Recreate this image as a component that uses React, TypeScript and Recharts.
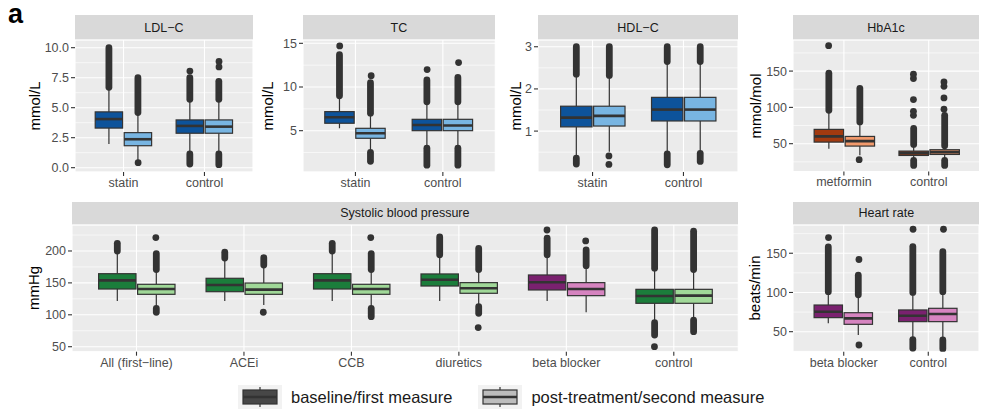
import React from 'react';
import { ComposedChart, Bar, Scatter, XAxis, YAxis, CartesianGrid } from 'recharts';

const FONT = '"Liberation Sans", Arial, Helvetica, sans-serif';

// ---------------- LDL-C ----------------
const ldlCategories = ['statin', 'control'];
const ldlTicks = [0, 2.5, 5, 7.5, 10];
const ldlMinor = [1.25, 3.75, 6.25, 8.75];
const ldlDomain = [-0.36, 10.64];
// [lower whisker, Q1, median, Q3, upper whisker]
const ldlBaseStats = [[1.97, 3.3, 4.05, 4.65, 6.6], [1.2, 2.87, 3.48, 3.98, 5.6]];
const ldlPostStats = [[0.6, 1.83, 2.37, 2.92, 4.55], [1.2, 2.87, 3.42, 3.98, 5.6]];
// dense outlier runs [from, to]
const ldlBaseRuns = [[[6.7, 10.0]], [[5.7, 7.5], [0.3, 1.15]]];
const ldlPostRuns = [[[4.6, 7.5]], [[5.7, 7.2], [0.25, 1.15]]];
const ldlBaseDots = [[], [8.05]];
const ldlPostDots = [[0.42], [8.4, 8.85]];

// ---------------- TC ----------------
const tcCategories = ['statin', 'control'];
const tcTicks = [5, 10, 15];
const tcMinor = [2.5, 7.5, 12.5];
const tcDomain = [0.27, 15.38];
const tcBaseStats = [[5.27, 5.85, 6.53, 7.18, 8.9], [3.05, 5.0, 5.65, 6.3, 8.25]];
const tcPostStats = [[2.6, 4.13, 4.7, 5.27, 6.95], [3.05, 5.0, 5.6, 6.3, 8.25]];
const tcBaseRuns = [[[9.0, 13.7]], [[8.3, 10.8], [1.05, 3.0]]];
const tcPostRuns = [[[7.0, 10.5], [1.5, 2.5]], [[8.3, 11.1], [1.05, 3.0]]];
const tcBaseDots = [[14.7], [12.0]];
const tcPostDots = [[11.3], [12.8]];

// ---------------- HDL-C ----------------
const hdlCategories = ['statin', 'control'];
const hdlTicks = [1, 2, 3];
const hdlMinor = [0.5, 1.5, 2.5];
const hdlDomain = [0.03, 3.16];
const hdlBaseStats = [[0.43, 1.1, 1.32, 1.59, 2.32], [0.5, 1.24, 1.51, 1.8, 2.63]];
const hdlPostStats = [[0.51, 1.12, 1.36, 1.59, 2.3], [0.52, 1.24, 1.51, 1.8, 2.63]];
const hdlBaseRuns = [[[2.35, 3.0], [0.22, 0.36]], [[2.65, 3.0], [0.2, 0.46]]];
const hdlPostRuns = [[[2.32, 3.0]], [[2.65, 3.0], [0.28, 0.47]]];
const hdlBaseDots = [[], []];
const hdlPostDots = [[0.41, 0.21], []];

// ---------------- HbA1c ----------------
const hbaCategories = ['metformin', 'control'];
const hbaTicks = [50, 100, 150];
const hbaMinor = [25, 75, 125, 175];
const hbaDomain = [11.7, 192.8];
const hbaBaseStats = [[43, 52.2, 60.1, 69.7, 95], [29, 33.8, 37, 39.8, 48]];
const hbaPostStats = [[34, 46.7, 53.6, 60, 79], [29, 35.2, 38.4, 41.7, 46]];
const hbaBaseRuns = [[[96, 147]], [[49, 71], [20, 27]]];
const hbaPostRuns = [[[80, 126]], [[47, 89], [20, 27]]];
const hbaBaseDots = [[185], [89, 94.6, 110.8, 139.8, 145.7]];
const hbaPostDots = [[28], [97.4, 113, 129, 135]];

// ---------------- Systolic blood pressure ----------------
const sbpCategories = ['All (first\u2212line)', 'ACEi', 'CCB', 'diuretics', 'beta blocker', 'control'];
const sbpTicks = [50, 100, 150, 200];
const sbpMinor = [75, 125, 175, 225];
const sbpDomain = [42.2, 240.7];
const sbpBaseStats = [
  [121.6, 140.4, 154, 164.4, 199],
  [121.6, 136.2, 146.7, 157.2, 186],
  [121.6, 140.4, 154, 164.4, 199],
  [121.6, 145.1, 155, 164, 193],
  [121.6, 138.9, 150.9, 162.4, 193],
  [87, 118, 129.5, 139.9, 172],
];
const sbpPostStats = [
  [110, 132.1, 140.4, 147.8, 170],
  [115.4, 132.1, 139.4, 149.8, 176],
  [110, 132.1, 140.4, 147.8, 170],
  [114, 133.7, 141.5, 150.4, 170],
  [103.9, 130, 140.4, 150.4, 176],
  [92, 118, 130, 139.9, 170],
];
const sbpBaseRuns = [[[200, 212]], [[189, 198]], [[200, 212]], [[194, 222]], [[194, 220]], [[173, 233], [68.3, 87.6]]];
const sbpPostRuns = [[[171, 196], [104, 110]], [[178, 189.5]], [[171, 196], [97, 110]], [[171, 204], [102.3, 112.7]], [[177, 201.6]], [[171, 231], [73.5, 91.8]]];
const sbpBaseDots = [[], [], [], [], [232.9], [50]];
const sbpPostDots = [[221], [104], [221], [80], [215.7], []];

// ---------------- Heart rate ----------------
const hrCategories = ['beta blocker', 'control'];
const hrTicks = [50, 100, 150];
const hrMinor = [25, 75, 125, 175];
const hrDomain = [24.5, 186];
const hrBaseStats = [[60.7, 67.9, 75.5, 84, 100], [41, 62.8, 70.4, 77.7, 99]];
const hrPostStats = [[45.8, 59.4, 67, 74.2, 96.5], [40.5, 62.8, 72.6, 79.8, 100]];
const hrBaseRuns = [[[101, 158]], [[100, 158.5], [28.8, 40]]];
const hrPostRuns = [[[97, 122]], [[101, 152], [28, 39.4]]];
const hrBaseDots = [[170], [180.6]];
const hrPostDots = [[33, 142], [180.6]];

// ---------------- colours ----------------
const BLUE_D = '#0d539b';
const BLUE_L = '#78b5e2';
const ORNG_D = '#a23a10';
const ORNG_L = '#f29a6c';
const GRN_D = '#1b7d3b';
const GRN_L = '#a0d898';
const PUR_D = '#7a216f';
const PUR_L = '#d684c0';

const ldlBaseColors = [BLUE_D, BLUE_D];
const ldlPostColors = [BLUE_L, BLUE_L];
const hbaBaseColors = [ORNG_D, ORNG_D];
const hbaPostColors = [ORNG_L, ORNG_L];
const sbpBaseColors = [GRN_D, GRN_D, GRN_D, GRN_D, PUR_D, GRN_D];
const sbpPostColors = [GRN_L, GRN_L, GRN_L, GRN_L, PUR_L, GRN_L];
const hrBaseColors = [PUR_D, PUR_D];
const hrPostColors = [PUR_L, PUR_L];

const INK = '#333333';

const makeBoxShape = (key: string, colors: string[]) => (props: any) => {
  const { x, y, width, height, payload, index } = props;
  if (x == null || payload == null) return <g />;
  const s = payload[key + 'S'];
  const runs = payload[key + 'R'];
  const top = Math.min(y, y + height);
  const h = Math.abs(height);
  const ppu = h / (s[3] - s[1]);
  const Y = (v: number) => top + h - (v - s[1]) * ppu;
  const cx = x + width / 2;
  const bx = x + 0.8;
  const bw = width - 1.6;
  return (
    <g>
      {runs.map((r: number[], k: number) => (
        <line key={k} x1={cx} x2={cx} y1={Y(r[0])} y2={Y(r[1])} stroke={INK} strokeWidth={6.8} strokeLinecap="round" />
      ))}
      <line x1={cx} x2={cx} y1={Y(s[0])} y2={Y(s[1])} stroke={INK} strokeWidth={1.2} />
      <line x1={cx} x2={cx} y1={Y(s[3])} y2={Y(s[4])} stroke={INK} strokeWidth={1.2} />
      <rect x={bx} y={top} width={bw} height={h} fill={colors[index]} stroke={INK} strokeWidth={1.2} />
      <line x1={bx} x2={bx + bw} y1={Y(s[2])} y2={Y(s[2])} stroke={INK} strokeWidth={2.6} />
    </g>
  );
};

const dotShape = (p: any) => <circle cx={p.cx} cy={p.cy} r={3.4} fill={INK} />;

const YW = 50;
const XH = 30;
const MT = 6;
const MR = 6;
const DODGE = 0.18;

type PanelProps = {
  left: number; top: number; w: number; h: number;
  stripTop: number; stripH: number; strip: string;
  titleX: number; title: string;
  categories: string[]; ticks: number[]; minor: number[]; domain: number[];
  baseStats: number[][]; postStats: number[][];
  baseRuns: number[][][]; postRuns: number[][][];
  baseDots: number[][]; postDots: number[][];
  baseColors: string[]; postColors: string[];
  fmt?: (v: number) => string;
};

function Panel(p: PanelProps) {
  const n = p.categories.length;
  const rows = p.categories.map((c, i) => ({
    cat: c,
    base: [p.baseStats[i][1], p.baseStats[i][3]],
    post: [p.postStats[i][1], p.postStats[i][3]],
    baseS: p.baseStats[i],
    postS: p.postStats[i],
    baseR: p.baseRuns[i],
    postR: p.postRuns[i],
  }));
  const dots: { x: number; y: number }[] = [];
  p.categories.forEach((c, i) => {
    p.baseDots[i].forEach((v) => dots.push({ x: i + 1 - DODGE, y: v }));
    p.postDots[i].forEach((v) => dots.push({ x: i + 1 + DODGE, y: v }));
  });
  const pad = (0.1 * p.w) / (n + 0.2);
  const tickStyle = { fill: '#4D4D4D', fontSize: 12.5, fontFamily: FONT };
  return (
    <>
      <div
        style={{
          position: 'absolute', left: p.left, top: p.stripTop, width: p.w, height: p.stripH,
          background: '#D9D9D9', color: '#1A1A1A', fontSize: 12.5, fontFamily: FONT,
          display: 'flex', alignItems: 'center', justifyContent: 'center',
        }}
      >
        {p.strip}
      </div>
      <div
        style={{
          position: 'absolute', left: p.titleX, top: p.top + p.h / 2,
          transform: 'translate(-50%, -50%) rotate(-90deg)', whiteSpace: 'nowrap',
          fontSize: 15, fontFamily: FONT, color: '#000',
        }}
      >
        {p.title}
      </div>
      <div style={{ position: 'absolute', left: p.left - YW, top: p.top - MT }}>
        <ComposedChart
          width={YW + p.w + MR}
          height={MT + p.h + XH}
          data={rows}
          margin={{ top: MT, right: MR, left: 0, bottom: 0 }}
          barCategoryGap="14%"
          barGap={0}
        >
          <XAxis
            dataKey="cat"
            type="category"
            height={XH}
            padding={{ left: pad, right: pad }}
            axisLine={false}
            tickLine={{ stroke: INK, strokeWidth: 1.1 }}
            tickSize={4}
            tickMargin={2}
            interval={0}
            tick={tickStyle}
          />
          <XAxis xAxisId="num" dataKey="x" type="number" domain={[0.4, n + 0.6]} allowDataOverflow hide />
          <YAxis
            type="number"
            domain={p.domain}
            allowDataOverflow
            ticks={p.ticks}
            interval={0}
            width={YW}
            axisLine={false}
            tickLine={{ stroke: INK, strokeWidth: 1.1 }}
            tickSize={4}
            tickMargin={2}
            tick={tickStyle}
            tickFormatter={p.fmt ?? ((v: number) => String(v))}
          />
          <YAxis yAxisId="minor" type="number" domain={p.domain} allowDataOverflow ticks={p.minor} interval={0} hide />
          <CartesianGrid yAxisId="minor" vertical={false} fill="#EBEBEB" stroke="#FFFFFF" strokeWidth={0.6} />
          <CartesianGrid stroke="#FFFFFF" strokeWidth={1.1} />
          <Bar dataKey="base" isAnimationActive={false} shape={makeBoxShape('base', p.baseColors)} />
          <Bar dataKey="post" isAnimationActive={false} shape={makeBoxShape('post', p.postColors)} />
          <Scatter data={dots} dataKey="y" xAxisId="num" isAnimationActive={false} shape={dotShape} />
        </ComposedChart>
      </div>
    </>
  );
}

const legendLabels = ['baseline/first measure', 'post-treatment/second measure'];
const legendFills = ['#474747', '#BDBDBD'];

function LegendKey({ fill }: { fill: string }) {
  return (
    <svg width={44} height={24} style={{ display: 'block' }}>
      <rect x={0} y={0} width={44} height={24} fill="#F2F2F2" />
      <line x1={22} x2={22} y1={2} y2={22} stroke={INK} strokeWidth={1.2} />
      <rect x={5} y={5} width={34} height={14} fill={fill} stroke={INK} strokeWidth={1.2} />
      <line x1={5} x2={39} y1={12} y2={12} stroke={INK} strokeWidth={2.4} />
    </svg>
  );
}

export default function App() {
  return (
    <div style={{ position: 'absolute', left: 0, top: 0, width: 1000, height: 411, background: '#fff', overflow: 'hidden', fontFamily: FONT }}>
      <div style={{ position: 'absolute', left: 8, top: 1, fontSize: 27, fontWeight: 'bold', lineHeight: 1, color: '#000' }}>a</div>
      <Panel left={75} top={40} w={178} h={132} stripTop={15} stripH={25} strip={'LDL\u2212C'} titleX={34} title="mmol/L"
        categories={ldlCategories} ticks={ldlTicks} minor={ldlMinor} domain={ldlDomain}
        baseStats={ldlBaseStats} postStats={ldlPostStats} baseRuns={ldlBaseRuns} postRuns={ldlPostRuns}
        baseDots={ldlBaseDots} postDots={ldlPostDots} baseColors={ldlBaseColors} postColors={ldlPostColors}
        fmt={(v: number) => v.toFixed(1)} />
      <Panel left={302.7} top={40} w={192.3} h={132} stripTop={15} stripH={25} strip="TC" titleX={267} title="mmol/L"
        categories={tcCategories} ticks={tcTicks} minor={tcMinor} domain={tcDomain}
        baseStats={tcBaseStats} postStats={tcPostStats} baseRuns={tcBaseRuns} postRuns={tcPostRuns}
        baseDots={tcBaseDots} postDots={tcPostDots} baseColors={ldlBaseColors} postColors={ldlPostColors} />
      <Panel left={538} top={40} w={200} h={132} stripTop={15} stripH={25} strip={'HDL\u2212C'} titleX={515} title="mmol/L"
        categories={hdlCategories} ticks={hdlTicks} minor={hdlMinor} domain={hdlDomain}
        baseStats={hdlBaseStats} postStats={hdlPostStats} baseRuns={hdlBaseRuns} postRuns={hdlPostRuns}
        baseDots={hdlBaseDots} postDots={hdlPostDots} baseColors={ldlBaseColors} postColors={ldlPostColors} />
      <Panel left={792.7} top={40} w={186.6} h={131.5} stripTop={15} stripH={25} strip="HbA1c" titleX={755} title="mmol/mol"
        categories={hbaCategories} ticks={hbaTicks} minor={hbaMinor} domain={hbaDomain}
        baseStats={hbaBaseStats} postStats={hbaPostStats} baseRuns={hbaBaseRuns} postRuns={hbaPostRuns}
        baseDots={hbaBaseDots} postDots={hbaPostDots} baseColors={hbaBaseColors} postColors={hbaPostColors} />
      <Panel left={71.7} top={225} w={666.3} h={126.7} stripTop={201.5} stripH={23.5} strip="Systolic blood pressure" titleX={33} title="mmHg"
        categories={sbpCategories} ticks={sbpTicks} minor={sbpMinor} domain={sbpDomain}
        baseStats={sbpBaseStats} postStats={sbpPostStats} baseRuns={sbpBaseRuns} postRuns={sbpPostRuns}
        baseDots={sbpBaseDots} postDots={sbpPostDots} baseColors={sbpBaseColors} postColors={sbpPostColors} />
      <Panel left={793.3} top={225} w={186} h={126.7} stripTop={201.5} stripH={23.5} strip="Heart rate" titleX={754} title="beats/min"
        categories={hrCategories} ticks={hrTicks} minor={hrMinor} domain={hrDomain}
        baseStats={hrBaseStats} postStats={hrPostStats} baseRuns={hrBaseRuns} postRuns={hrPostRuns}
        baseDots={hrBaseDots} postDots={hrPostDots} baseColors={hrBaseColors} postColors={hrPostColors} />
      <div style={{ position: 'absolute', left: 238, top: 385, display: 'flex', alignItems: 'center', height: 24 }}>
        {legendLabels.map((l, i) => (
          <div key={l} style={{ display: 'flex', alignItems: 'center', marginRight: i === 0 ? 26 : 0 }}>
            <LegendKey fill={legendFills[i]} />
            <span style={{ marginLeft: 9, fontSize: 16.5, color: '#1A1A1A', whiteSpace: 'nowrap' }}>{l}</span>
          </div>
        ))}
      </div>
    </div>
  );
}
